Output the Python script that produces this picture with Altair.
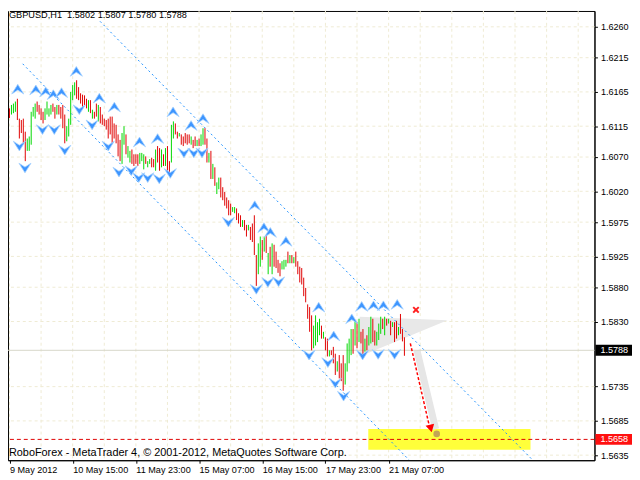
import altair as alt
import pandas as pd

# ---- OHLC bars (H1) ----
highs = [
    1.6141, 1.6146, 1.6148, 1.6151, 1.6155, 1.6126, 1.6124, 1.6126, 1.6107, 1.6097,
    1.6100, 1.6136, 1.6143, 1.6148, 1.6151, 1.6146, 1.6141, 1.6136, 1.6141, 1.6151,
    1.6141, 1.6146, 1.6148, 1.6143, 1.6146, 1.6146, 1.6143, 1.6146, 1.6132, 1.6115,
    1.6126,
    1.6165, 1.6175, 1.6179, 1.6182, 1.6172, 1.6163, 1.6161, 1.6160, 1.6155,
    1.6153, 1.6153, 1.6139, 1.6136, 1.6148, 1.6146, 1.6143, 1.6132, 1.6126, 1.6124,
    1.6126, 1.6129, 1.6129, 1.6119, 1.6117, 1.6103, 1.6095, 1.6105, 1.6115, 1.6103,
    1.6086, 1.6079, 1.6081, 1.6074,
    1.6074, 1.6074, 1.6076, 1.6076, 1.6074, 1.6071,
    1.6064, 1.6067, 1.6069, 1.6067, 1.6081, 1.6086, 1.6083, 1.6081, 1.6074, 1.6083,
    1.6086, 1.6064, 1.6117, 1.6122, 1.6119, 1.6107, 1.6105, 1.6103, 1.6100, 1.6105,
    1.6103, 1.6103, 1.6100, 1.6095, 1.6100, 1.6095, 1.6097, 1.6103, 1.6112,
    1.6112,
    1.6097, 1.6076, 1.6079, 1.6060, 1.6055, 1.6033, 1.6040, 1.6040, 1.6026, 1.6019,
    1.6011, 1.6007, 1.6002, 1.5997, 1.5997, 1.5995, 1.5988, 1.5985, 1.5978, 1.5978,
    1.5971, 1.5971, 1.5968, 1.5973, 1.5985, 1.5927, 1.5944, 1.5954, 1.5949, 1.5954,
    1.5956, 1.5930,
    1.5939, 1.5944, 1.5942, 1.5932, 1.5920, 1.5915, 1.5918, 1.5920,
    1.5920, 1.5932, 1.5927, 1.5927, 1.5924, 1.5932, 1.5918, 1.5910, 1.5908, 1.5894,
    1.5879, 1.5855, 1.5851, 1.5839, 1.5824, 1.5839, 1.5829, 1.5834, 1.5824, 1.5815,
    1.5807, 1.5805, 1.5788, 1.5788,
    1.5793, 1.5783, 1.5772, 1.5781, 1.5769, 1.5781,
    1.5769, 1.5798, 1.5805, 1.5819, 1.5819, 1.5831, 1.5829, 1.5834, 1.5815, 1.5819,
    1.5805, 1.5810, 1.5822, 1.5837, 1.5834, 1.5817, 1.5815, 1.5827, 1.5837, 1.5834,
    1.5837, 1.5834, 1.5834, 1.5831, 1.5829, 1.5829, 1.5831, 1.5822, 1.5841, 1.5819,
    1.5807,
]
lows = [
    1.6127, 1.6132, 1.6134, 1.6136, 1.6124, 1.6097, 1.6105, 1.6090, 1.6064, 1.6079,
    1.6079, 1.6088, 1.6129, 1.6126, 1.6136, 1.6132, 1.6124, 1.6119, 1.6124, 1.6132,
    1.6129, 1.6132, 1.6136, 1.6126, 1.6132, 1.6132, 1.6126, 1.6112, 1.6090, 1.6093,
    1.6100,
    1.6117, 1.6153, 1.6160, 1.6155, 1.6153, 1.6148, 1.6141, 1.6146, 1.6141,
    1.6136, 1.6134, 1.6126, 1.6126, 1.6129, 1.6122, 1.6119, 1.6117, 1.6115, 1.6110,
    1.6097, 1.6103, 1.6090, 1.6097, 1.6090, 1.6071, 1.6064, 1.6060, 1.6088, 1.6074,
    1.6069, 1.6062, 1.6060, 1.6057,
    1.6060, 1.6057, 1.6060, 1.6064, 1.6052, 1.6060,
    1.6055, 1.6060, 1.6055, 1.6055, 1.6050, 1.6062, 1.6050, 1.6055, 1.6057, 1.6057,
    1.6050, 1.6047, 1.6062, 1.6097, 1.6103, 1.6097, 1.6100, 1.6088, 1.6086, 1.6090,
    1.6088, 1.6090, 1.6088, 1.6083, 1.6086, 1.6086, 1.6086, 1.6086, 1.6088,
    1.6088,
    1.6062, 1.6062, 1.6038, 1.6038, 1.6028, 1.6016, 1.6023, 1.6011, 1.6007, 1.5999,
    1.5995, 1.5985, 1.5985, 1.5990, 1.5988, 1.5978, 1.5973, 1.5968, 1.5968, 1.5963,
    1.5954, 1.5963, 1.5949, 1.5946, 1.5927, 1.5882, 1.5899, 1.5910, 1.5920, 1.5932,
    1.5930, 1.5899,
    1.5910, 1.5899, 1.5910, 1.5908, 1.5901, 1.5896, 1.5906, 1.5906,
    1.5910, 1.5915, 1.5915, 1.5915, 1.5915, 1.5910, 1.5899, 1.5887, 1.5884, 1.5867,
    1.5858, 1.5834, 1.5815, 1.5788, 1.5791, 1.5795, 1.5800, 1.5810, 1.5805, 1.5805,
    1.5788, 1.5779, 1.5779, 1.5781,
    1.5769, 1.5752, 1.5757, 1.5747, 1.5743, 1.5729,
    1.5738, 1.5757, 1.5769, 1.5781, 1.5783, 1.5795, 1.5791, 1.5800, 1.5798, 1.5781,
    1.5786, 1.5788, 1.5795, 1.5798, 1.5800, 1.5795, 1.5795, 1.5803, 1.5812, 1.5819,
    1.5810, 1.5824, 1.5827, 1.5810, 1.5822, 1.5800, 1.5805, 1.5810, 1.5812, 1.5801,
    1.5780,
]
ups = [
    0, 1, 1, 1, 0, 0, 0, 0, 0, 1, 1, 1, 1, 1, 0, 0, 0, 0, 1, 1,
    1, 1, 0, 0, 1, 0, 0, 0, 0, 1, 1,
    1, 1, 1, 0, 0, 0, 0, 0, 0, 1, 0, 1, 0, 0, 1, 0, 0, 0, 0,
    0, 0, 0, 0, 0, 0, 0, 1, 1, 0, 1, 1, 0, 0,
    0, 0, 1, 1, 1, 0, 1, 1, 0, 0, 1, 0, 0, 1, 0, 1,
    0, 0, 1, 1, 0, 0, 1, 0, 0, 0, 0, 0, 1, 0, 0, 1, 0, 1, 1,
    0, 0, 1, 0, 1, 0, 1, 1, 0, 0, 0, 0, 0, 0, 1, 1, 0, 0, 0, 1, 0,
    0, 1, 0, 0, 0, 0, 1, 1, 0, 1, 0, 1,
    0, 1, 0, 0, 0, 0, 1, 1, 1, 0, 1, 0, 1, 0, 0, 0, 0, 0,
    0, 0, 0, 0, 1, 1, 1, 1, 0, 1, 0, 0, 1, 0,
    0, 0, 1, 0, 0, 0, 1, 1, 1, 1, 0, 1, 0, 1, 0, 0,
    1, 0, 1, 1, 0, 0, 1, 1, 1, 0, 1, 0, 1, 0, 1, 0, 0, 1, 0, 0, 0,
]

# ---- fractal arrows (bar position, price) ----
up_idx = [4.2, 13.35, 18.35, 22.2, 26.35, 33.85, 45.5, 53.1, 65.85, 75.0, 82.85,
          91.95, 98.0, 124.2, 128.85, 132.1, 140.0, 156.6, 164.2, 173.35, 178.35,
          184.35, 189.35, 196.35]
up_price = [1.6169, 1.6168, 1.6165, 1.6161, 1.6164, 1.6195, 1.6156, 1.6143, 1.6092,
            1.6097, 1.6136, 1.6116, 1.6126, 1.5999, 1.5967, 1.5960, 1.5947, 1.5851,
            1.5809, 1.5834, 1.5852, 1.5853, 1.5853, 1.5855]
dn_idx = [5.0, 7.85, 16.7, 22.7, 28.0, 35.35, 41.85, 50.0, 55.45, 61.7, 65.45, 70.0,
          75.85, 81.45, 88.35, 93.35, 97.5, 110.85, 125.0, 130.85, 136.25, 151.7,
          161.25, 165.0, 169.2, 178.85, 186.7, 195.0]
dn_price = [1.6086, 1.6054, 1.6110, 1.6110, 1.6080, 1.6139, 1.6117, 1.6086, 1.6048,
            1.6050, 1.6040, 1.6040, 1.6038, 1.6046, 1.6076, 1.6076, 1.6076, 1.5975,
            1.5877, 1.5887, 1.5888, 1.5781, 1.5770, 1.5740, 1.5721, 1.5781, 1.5782,
            1.5782]

# ---- channel lines, zones and forecast ----
chan_line = ["upper", "upper", "lower", "lower"]
chan_idx = [45.85, 264.2, 6.7, 202.35]
chan_price = [1.6268, 1.5630, 1.6206, 1.5628]
target_idx = [181.7, 263.85]
target_price = [1.5673, 1.5643]
flag_idx = [177.35, 221.85]
flag_top = [1.5837, 1.5832]
flag_bot = [1.5779, 1.5832]
shadow_idx = [206.35, 215.85]
shadow_price = [1.5788, 1.5673]
arrow_idx = [203.0, 212.35]
arrow_price = [1.5798, 1.5681]
head_idx, head_price = [213.35], [1.5674]
dot_idx, dot_price = [216.35], [1.5666]
cross_idx, cross_price = [205.85], [1.5847]

bid_price = 1.5788
level_price = 1.5658

# ---- axes ----
y_ticks = [1.6260, 1.6215, 1.6165, 1.6115, 1.6070, 1.6020, 1.5975, 1.5925, 1.5880,
           1.5830, 1.5735, 1.5685, 1.5635]
x_tick_idx = [0, 32, 64, 96, 128, 160, 192]
x_tick_labels = ["9 May 2012", "10 May 15:00", "11 May 23:00", "15 May 07:00",
                 "16 May 15:00", "17 May 23:00", "21 May 07:00"]
x_grid_idx = list(range(0, 300, 16))

title_text = "GBPUSD,H1\u00a0\u00a01.5802 1.5807 1.5780 1.5788"
copy_text = "RoboForex - MetaTrader 4, \u00a9 2001-2012, MetaQuotes Software Corp."

FONT = "Liberation Sans"
W, H = 594, 455
xs = alt.Scale(domain=[-0.75, 296.25], nice=False, zero=False)
ys = alt.Scale(domain=[1.56276, 1.62831], nice=False, zero=False)

lbl_js = "[" + ",".join("'%s'" % s for s in x_tick_labels) + "]"
idx_js = "[" + ",".join(str(v) for v in x_tick_idx) + "]"
x_axis = alt.Axis(values=x_tick_idx, labelExpr="%s[indexof(%s, datum.value)]" % (lbl_js, idx_js),
                  orient="bottom", tickSize=3, tickColor="black", domainColor="black",
                  labelAlign="left", labelPadding=2, labelFont=FONT, labelFontSize=9.2,
                  labelColor="black", labelFlush=False, labelOverlap=False, grid=False,
                  title=None)
y_axis = alt.Axis(values=y_ticks, format=".4f", orient="right", tickSize=3, tickColor="black",
                  domainColor="black", labelPadding=3, labelFont=FONT, labelFontSize=9.2,
                  labelColor="black", labelOverlap=False, labelFlush=False, grid=False,
                  title=None)


def X(field):
    return alt.X(field, type="quantitative", scale=xs, axis=x_axis)


def Y(field):
    return alt.Y(field, type="quantitative", scale=ys, axis=y_axis)


GRID = "#EFEBD3"

vgrid = alt.Chart(pd.DataFrame({"i": x_grid_idx})).mark_rule(
    color=GRID, strokeDash=[3, 3], strokeWidth=1).encode(x=X("i"))
hgrid = alt.Chart(pd.DataFrame({"p": y_ticks})).mark_rule(
    color=GRID, strokeDash=[3, 3], strokeWidth=1).encode(y=Y("p"))

target = alt.Chart(pd.DataFrame({"a": [target_idx[0]], "b": [target_idx[1]],
                                 "t": [target_price[0]], "u": [target_price[1]]})).mark_rect(
    color="#FFFF3A", opacity=1).encode(x=X("a"), x2="b", y=Y("t"), y2="u")

flag = alt.Chart(pd.DataFrame({"i": flag_idx, "t": flag_top, "b": flag_bot})).mark_area(
    color="#E8E8E8", opacity=1).encode(x=X("i"), y=Y("t"), y2="b")

shadow = alt.Chart(pd.DataFrame({"i": shadow_idx, "p": shadow_price})).mark_line(
    color="#E6E6E6", strokeWidth=7, strokeCap="butt").encode(x=X("i"), y=Y("p"))

bid = alt.Chart(pd.DataFrame({"p": [bid_price]})).mark_rule(
    color="#D6D6C8", strokeWidth=1).encode(y=Y("p"))
level = alt.Chart(pd.DataFrame({"p": [level_price]})).mark_rule(
    color="#E00000", strokeDash=[4, 3], strokeWidth=1).encode(y=Y("p"))

channels = alt.Chart(pd.DataFrame({"line": chan_line, "i": chan_idx, "p": chan_price})).mark_line(
    color="#1E90FF", strokeDash=[2, 3], strokeWidth=1).encode(x=X("i"), y=Y("p"), detail="line:N")

bars = alt.Chart(pd.DataFrame({"i": list(range(len(highs))), "h": highs, "l": lows, "up": ups})).mark_rule(
    strokeWidth=1).encode(
    x=X("i"), y=Y("h"), y2="l",
    color=alt.Color("up:N", scale=alt.Scale(domain=[0, 1], range=["#E00000", "#00D800"]), legend=None))

UP_SHAPE = "M0,-0.8L1,0.8L0,0.15L-1,0.8Z"
DN_SHAPE = "M0,0.8L1,-0.8L0,-0.15L-1,-0.8Z"
up_marks = alt.Chart(pd.DataFrame({"i": up_idx, "p": up_price})).mark_point(
    shape=UP_SHAPE, filled=True, fill="#3D95FF", stroke="#A8D3FF", strokeWidth=0.8,
    size=150, opacity=1).encode(x=X("i"), y=Y("p"))
dn_marks = alt.Chart(pd.DataFrame({"i": dn_idx, "p": dn_price})).mark_point(
    shape=DN_SHAPE, filled=True, fill="#3D95FF", stroke="#A8D3FF", strokeWidth=0.8,
    size=150, opacity=1).encode(x=X("i"), y=Y("p"))

arrow = alt.Chart(pd.DataFrame({"i": arrow_idx, "p": arrow_price})).mark_line(
    color="#FF0000", strokeDash=[3, 2], strokeWidth=1.5).encode(x=X("i"), y=Y("p"))
head = alt.Chart(pd.DataFrame({"i": head_idx, "p": head_price})).mark_point(
    shape="triangle-down", filled=True, color="#FF0000", size=80, angle=346, opacity=1).encode(
    x=X("i"), y=Y("p"))
dot = alt.Chart(pd.DataFrame({"i": dot_idx, "p": dot_price})).mark_point(
    shape="circle", filled=True, color="#C2A456", size=45, opacity=1).encode(x=X("i"), y=Y("p"))
X_SHAPE = "M-1,-0.6L-0.6,-1L0,-0.4L0.6,-1L1,-0.6L0.4,0L1,0.6L0.6,1L0,0.4L-0.6,1L-1,0.6L-0.4,0Z"
cross = alt.Chart(pd.DataFrame({"i": cross_idx, "p": cross_price})).mark_point(
    shape=X_SHAPE, filled=True, color="#FF2020", size=49, opacity=1).encode(x=X("i"), y=Y("p"))

title = alt.Chart(pd.DataFrame({"t": [title_text]})).mark_text(
    align="left", baseline="alphabetic", font=FONT, fontSize=9.3, color="black").encode(
    x=alt.value(1), y=alt.value(7), text="t:N")
copyright_ = alt.Chart(pd.DataFrame({"t": [copy_text]})).mark_text(
    align="left", baseline="alphabetic", font=FONT, fontSize=11, color="black").encode(
    x=alt.value(1), y=alt.value(451), text="t:N")

box_df = pd.DataFrame({"p": [bid_price, level_price],
                       "lbl": ["%.4f" % bid_price, "%.4f" % level_price],
                       "c": ["bid", "level"]})
boxes = alt.Chart(box_df).mark_rule(strokeWidth=11).encode(
    x=alt.value(W + 1), x2=alt.value(W + 38), y=Y("p"),
    color=alt.Color("c:N", scale=alt.Scale(domain=["bid", "level"], range=["#000000", "#FF1010"]),
                    legend=None))
box_text = alt.Chart(box_df).mark_text(
    align="left", baseline="middle", font=FONT, fontSize=9.2, color="white").encode(
    x=alt.value(W + 6), y=Y("p"), text="lbl:N")

chart = alt.layer(
    vgrid, hgrid, target, flag, shadow, bid, level, channels, bars,
    up_marks, dn_marks, arrow, head, dot, cross, title, copyright_, boxes, box_text
).resolve_scale(color="independent").properties(
    width=W, height=H,
    padding={"left": 0, "top": 0, "right": 38, "bottom": 17},
    autosize=alt.AutoSizeParams(type="none"),
    background="white",
).configure_view(stroke="black", strokeWidth=1)

chart.save("out.html", embed_options={"renderer": "svg", "actions": False})
